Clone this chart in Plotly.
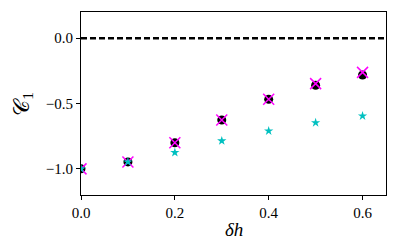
import plotly.graph_objects as go

dh = [0.0, 0.1, 0.2, 0.3, 0.4, 0.5, 0.6]
c1_black = [-1.0, -0.947, -0.80, -0.626, -0.468, -0.36, -0.282]
c1_magenta = [-1.0, -0.947, -0.80, -0.626, -0.468, -0.348, -0.262]
c1_cyan = [-1.0, -0.947, -0.875, -0.786, -0.71, -0.647, -0.595]

SERIF = "Liberation Serif, DejaVu Serif, serif"

fig = go.Figure()
fig.add_trace(go.Scatter(x=dh, y=c1_black, mode="markers",
                         marker=dict(symbol="circle", size=9, color="black")))
fig.add_trace(go.Scatter(x=dh, y=c1_magenta, mode="markers",
                         marker=dict(symbol="x-thin", size=11,
                                     line=dict(color="#ff00ff", width=1.5))))
fig.add_trace(go.Scatter(x=dh, y=c1_cyan, mode="markers",
                         marker=dict(symbol="star", size=7, color="#00c0c0")))

fig.add_shape(type="line", xref="paper", x0=0, x1=1, yref="y", y0=0, y1=0,
              line=dict(color="black", width=2.5, dash="6px,3px"))

axis_common = dict(showgrid=False, zeroline=False, showline=True, linecolor="black",
                   linewidth=1.2, mirror=True, ticks="outside", ticklen=4,
                   tickcolor="black", automargin=False,
                   tickfont=dict(family=SERIF, size=15, color="black"))

fig.add_annotation(text="<i>δh</i>", xref="paper", yref="paper", x=0.5, y=-0.19,
                   xanchor="center", yanchor="middle", showarrow=False,
                   font=dict(family=SERIF, size=19, color="black"))
fig.add_annotation(text="𝒞<sub>1</sub>", xref="paper", yref="paper", x=-0.193, y=0.5,
                   xanchor="center", yanchor="middle", showarrow=False, textangle=-90,
                   font=dict(family=SERIF, size=22, color="black"))

# page body has an 8px default margin, so the figure is sized/offset for that
fig.update_layout(
    width=399, height=236,
    margin=dict(l=73, r=21, t=4, b=49),
    plot_bgcolor="white", paper_bgcolor="white",
    showlegend=False,
    font=dict(family=SERIF),
    xaxis=dict(range=[0, 0.65], tickvals=[0, 0.2, 0.4, 0.6], ticktext=["0.0", "0.2", "0.4", "0.6"],
               **axis_common),
    yaxis=dict(range=[-1.2, 0.2], tickvals=[-1.0, -0.5, 0.0], ticktext=["−1.0", "−0.5", "0.0"],
               **axis_common),
)

fig.write_html("out.html")
